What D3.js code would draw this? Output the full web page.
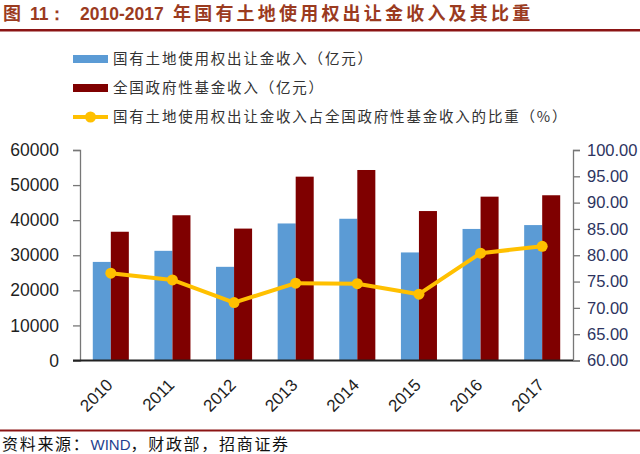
<!DOCTYPE html>
<html><head><meta charset="utf-8">
<script src="https://cdn.jsdelivr.net/npm/d3@7/dist/d3.min.js"></script>
<style>
html,body{margin:0;padding:0;background:#fff;}
svg{display:block;}
</style></head>
<body>
<svg id="chart" width="640" height="454"></svg>
<script>
const years = ["2010","2011","2012","2013","2014","2015","2016","2017"];
const landRevenue = [28100, 31260, 26700, 39060, 40400, 30800, 37500, 38600];
const fundRevenue = [36700, 41400, 37600, 52400, 54300, 42600, 46700, 47100];
const ratio = [76.6, 75.3, 71.0, 74.7, 74.6, 72.6, 80.4, 81.7];
const leftTicks = [0, 10000, 20000, 30000, 40000, 50000, 60000];
const rightTicks = [60, 65, 70, 75, 80, 85, 90, 95, 100];
const seriesNames = ["国有土地使用权出让金收入（亿元）", "全国政府性基金收入（亿元）", "国有土地使用权出让金收入占全国政府性基金收入的比重（%）"];
const titleParts = ["图", "11：", "2010-2017", "年国有土地使用权出让金收入及其比重"];

const svg = d3.select("#chart");
const cjk = "'Noto Sans CJK SC', 'Liberation Sans', sans-serif";
const latin = "'Liberation Sans', Arial, sans-serif";
const colBlue = "#5B9BD5", colRed = "#7F0000", colLine = "#FFC000";

const L = 80, R = 573, T = 150, B = 360.5;

// title
const title = svg.append("text").attr("y", 20)
  .attr("font-weight", "bold").attr("fill", "#9B3B1F");
title.append("tspan").attr("x", 3).attr("font-family", cjk).attr("font-size", 18).text(titleParts[0]);
title.append("tspan").attr("x", 30).attr("font-family", latin).attr("font-size", 17.5).text(titleParts[1]);
title.append("tspan").attr("x", 80).attr("font-family", latin).attr("font-size", 17.5).text(titleParts[2]);
title.append("tspan").attr("x", 173).attr("font-family", cjk).attr("font-size", 18).attr("letter-spacing", 3.2).text(titleParts[3]);
svg.append("rect").attr("x", 0).attr("y", 29).attr("width", 640).attr("height", 2.5).attr("fill", "#8B1414");

// scales
const x0 = d3.scaleBand().domain(years).range([L, R]).paddingInner(0.415).paddingOuter(0.2075);
const x1 = d3.scaleBand().domain(["land","fund"]).range([0, x0.bandwidth()]);
const yL = d3.scaleLinear().domain([0, 60000]).range([B, T]);
const yR = d3.scaleLinear().domain([60, 100]).range([B, T]);

// bars
const g = svg.append("g");
years.forEach((yr, i) => {
  g.append("rect").attr("x", x0(yr) + x1("land")).attr("width", x1.bandwidth())
    .attr("y", yL(landRevenue[i])).attr("height", yL(0) - yL(landRevenue[i])).attr("fill", colBlue);
  g.append("rect").attr("x", x0(yr) + x1("fund")).attr("width", x1.bandwidth())
    .attr("y", yL(fundRevenue[i])).attr("height", yL(0) - yL(fundRevenue[i])).attr("fill", colRed);
});

// axes
const leftAxis = d3.axisLeft(yL).tickValues(leftTicks).tickSize(7).tickPadding(14).tickFormat(d3.format("d"));
const gl = svg.append("g").attr("transform", `translate(${L},0)`).call(leftAxis);
gl.select(".domain").attr("stroke", "#777").attr("stroke-width", 1.3);
gl.selectAll(".tick line").attr("stroke", "#777").attr("stroke-width", 1.3);
gl.selectAll(".tick text").attr("font-family", latin).attr("font-size", 17.5).attr("fill", "#1f1f1f");

const rightAxis = d3.axisRight(yR).tickValues(rightTicks).tickSize(7).tickPadding(7).tickFormat(d3.format(".2f"));
const gr = svg.append("g").attr("transform", `translate(${R},0)`).call(rightAxis);
gr.select(".domain").attr("stroke", "#777").attr("stroke-width", 1.3);
gr.selectAll(".tick line").attr("stroke", "#777").attr("stroke-width", 1.3);
gr.selectAll(".tick text").attr("font-family", latin).attr("font-size", 16.5).attr("fill", "#2d3460");

// x axis baseline
svg.append("line").attr("x1", 73).attr("x2", R).attr("y1", B).attr("y2", B)
  .attr("stroke", "#222").attr("stroke-width", 2);

// x labels
years.forEach((yr) => {
  const cx = x0(yr) + x0.bandwidth() / 2;
  svg.append("text").attr("transform", `translate(${cx + 3},${386}) rotate(-45)`)
    .attr("text-anchor", "end").attr("font-family", latin).attr("font-size", 17)
    .attr("fill", "#1f1f1f").text(yr);
});

// ratio line
const line = d3.line().x((d, i) => x0(years[i]) + x0.bandwidth() / 2).y(d => yR(d));
svg.append("path").datum(ratio).attr("d", line).attr("fill", "none")
  .attr("stroke", colLine).attr("stroke-width", 4).attr("stroke-linejoin", "round");
svg.selectAll("circle.pt").data(ratio).enter().append("circle").attr("class", "pt")
  .attr("cx", (d, i) => x0(years[i]) + x0.bandwidth() / 2).attr("cy", d => yR(d))
  .attr("r", 5.5).attr("fill", colLine);

// legend
const legY = [59, 88, 117];
const lg = svg.append("g");
lg.append("rect").attr("x", 73).attr("y", legY[0] - 4).attr("width", 35).attr("height", 8).attr("fill", colBlue);
lg.append("rect").attr("x", 73).attr("y", legY[1] - 4).attr("width", 35).attr("height", 8).attr("fill", colRed);
lg.append("line").attr("x1", 73).attr("x2", 108).attr("y1", legY[2]).attr("y2", legY[2])
  .attr("stroke", colLine).attr("stroke-width", 4);
lg.append("circle").attr("cx", 90.5).attr("cy", legY[2]).attr("r", 5.5).attr("fill", colLine);
seriesNames.forEach((n, i) => {
  lg.append("text").attr("x", 113).attr("y", legY[i] + 5).attr("font-family", cjk)
    .attr("font-size", 14.5).attr("letter-spacing", 1.8).attr("fill", "#333").text(n);
});

// bottom rule + source
svg.append("rect").attr("x", 0).attr("y", 429.5).attr("width", 640).attr("height", 2).attr("fill", "#8B1414");
const src = svg.append("text").attr("x", 2).attr("y", 450).attr("font-family", cjk)
  .attr("font-size", 16).attr("letter-spacing", 1.7).attr("fill", "#111");
src.append("tspan").text("资料来源：");
src.append("tspan").attr("font-family", latin).attr("fill", "#1F3F8F").attr("letter-spacing", 0).attr("font-size", 15).text("WIND");
src.append("tspan").text("，财政部，招商证券");
</script>
</body></html>
